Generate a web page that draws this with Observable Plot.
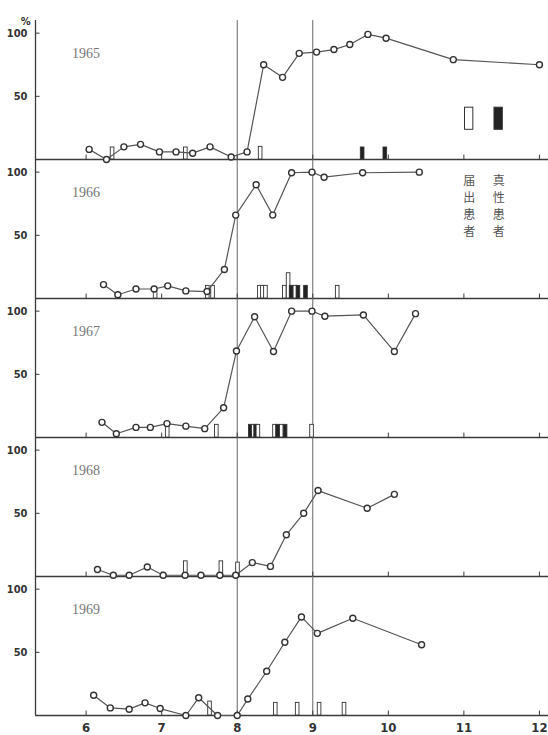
<!DOCTYPE html>
<html><head><meta charset="utf-8">
<script src="https://cdn.jsdelivr.net/npm/d3@7"></script>
<script src="https://cdn.jsdelivr.net/npm/@observablehq/plot@0.6"></script>
<style>body{margin:0;background:#fff}</style>
</head><body><div id="chart"></div>
<script>
const years = [1965, 1966, 1967, 1968, 1969];
const months = [6, 7, 8, 9, 10, 11, 12];
const markerMonths = [8, 9];
const yTicks = [50, 100];

// percentage series (x in months, y in %)
const month1965 = [6.04, 6.27, 6.50, 6.72, 6.97, 7.19, 7.41, 7.64, 7.92, 8.13, 8.35, 8.60, 8.82, 9.05, 9.28, 9.49, 9.73, 9.97, 10.86, 12.0];
const rate1965  = [8, 0, 10, 12, 6, 6, 5, 10, 2, 6, 75, 65, 84, 85, 87, 91, 99, 96, 79, 75];
const month1966 = [6.23, 6.42, 6.66, 6.90, 7.08, 7.32, 7.60, 7.83, 7.98, 8.25, 8.47, 8.72, 8.99, 9.15, 9.66, 10.41];
const rate1966  = [11, 3, 7.5, 7.5, 10, 6, 5.5, 23, 66, 90, 66, 99.5, 100, 96, 99.5, 100];
const month1967 = [6.21, 6.40, 6.66, 6.85, 7.07, 7.32, 7.57, 7.82, 7.99, 8.23, 8.48, 8.72, 8.99, 9.16, 9.67, 10.08, 10.36];
const rate1967  = [12, 3, 8, 8, 11, 9, 7, 23.5, 68.5, 95.5, 68, 100, 100, 96, 97, 68, 98];
const month1968 = [6.15, 6.36, 6.57, 6.81, 7.02, 7.31, 7.52, 7.77, 7.98, 8.20, 8.44, 8.65, 8.88, 9.07, 9.72, 10.08];
const rate1968  = [5.5, 1, 1, 7.5, 1, 1, 1, 1, 1, 11, 8, 33, 50, 68, 54, 65];
const month1969 = [6.10, 6.32, 6.57, 6.78, 6.98, 7.32, 7.49, 7.74, 8.00, 8.14, 8.39, 8.63, 8.85, 9.06, 9.53, 10.44];
const rate1969  = [16, 6, 5, 10, 5.5, 0, 14, 0, 0, 13, 35, 58, 78, 65, 77, 56];

// patient bars (o = 届出患者 open, f = 真性患者 filled)
const barMonth1965 = [6.35, 7.32, 8.31, 9.66, 9.96];
const barSize1965  = [9.5, 9.5, 10, 9.5, 9.5];
const barKind1965  = ["o", "o", "o", "f", "f"];
const barMonth1966 = [6.92, 7.61, 7.68, 8.30, 8.34, 8.38, 8.63, 8.68, 8.72, 8.77, 8.81, 8.91, 9.33];
const barSize1966  = [5, 10, 10, 10, 10, 10, 10, 20, 10, 10, 10, 10, 10];
const barKind1966  = ["o", "o", "o", "o", "o", "o", "o", "o", "f", "o", "f", "f", "o"];
const barMonth1967 = [7.08, 7.73, 8.18, 8.22, 8.25, 8.28, 8.50, 8.54, 8.59, 8.64, 8.99];
const barSize1967  = [10, 10, 10, 10, 10, 10, 10, 10, 10, 10, 10];
const barKind1967  = ["o", "o", "f", "o", "f", "o", "o", "f", "o", "f", "o"];
const barMonth1968 = [7.32, 7.79, 8.01];
const barSize1968  = [12, 12, 11];
const barKind1968  = ["o", "o", "o"];
const barMonth1969 = [7.64, 8.51, 8.80, 9.09, 9.42];
const barSize1969  = [11, 10, 10, 10, 10];
const barKind1969  = ["o", "o", "o", "o", "o"];

const legendKind  = ["o", "f"];
const legendLabel = ["届出患者", "真性患者"];
const legendMonth = [11.07, 11.46];
const legendKeyRange = [23.5, 41];
const legendTextY = 74;

const seriesMonths = {1965: month1965, 1966: month1966, 1967: month1967, 1968: month1968, 1969: month1969};
const seriesRates  = {1965: rate1965, 1966: rate1966, 1967: rate1967, 1968: rate1968, 1969: rate1969};
const barMonths = {1965: barMonth1965, 1966: barMonth1966, 1967: barMonth1967, 1968: barMonth1968, 1969: barMonth1969};
const barSizes  = {1965: barSize1965, 1966: barSize1966, 1967: barSize1967, 1968: barSize1968, 1969: barSize1969};
const barKinds  = {1965: barKind1965, 1966: barKind1966, 1967: barKind1967, 1968: barKind1968, 1969: barKind1969};

const points = years.flatMap(y => seriesMonths[y].map((m, i) => ({year: y, month: m, rate: seriesRates[y][i]})));
const bars = years.flatMap(y => barMonths[y].map((m, i) => ({year: y, month: m, size: barSizes[y][i], kind: barKinds[y][i]})));
const legend = legendKind.map((k, i) => ({kind: k, label: legendLabel[i], month: legendMonth[i]}));

const xDomain = [5.33, 12.12];
const bw = 0.024;
const ink = "#3a3a3a";

const chart = Plot.plot({
  width: 548, height: 735,
  marginLeft: 35, marginRight: 0, marginTop: 18, marginBottom: 19,
  x: {domain: xDomain},
  y: {domain: [0, 110]},
  fy: {domain: years, padding: 0, axis: null},
  style: {background: "white", overflow: "visible"},
  marks: [
    Plot.ruleY([0], {stroke: ink, strokeWidth: 1.3}),
    Plot.ruleX([xDomain[0]], {stroke: ink, strokeWidth: 1.3}),
    Plot.ruleX(markerMonths, {stroke: "#666", strokeWidth: 1}),
    Plot.ruleX(months, {x: d => d, y1: 0, y2: 3.5, stroke: ink}),
    Plot.ruleY(yTicks, {y: d => d, x1: xDomain[0], x2: xDomain[0] + 0.06, stroke: ink}),
    Plot.axisY({ticks: yTicks, tickSize: 0, tickPadding: 8, tickFormat: d => String(d), fontSize: 11, fontWeight: "bold", fontFamily: "DejaVu Sans Condensed", fill: "#333", label: null}),
    Plot.axisX({ticks: months, tickSize: 0, tickPadding: 7, tickFormat: d => String(d), fontSize: 13, fontWeight: "bold", fontFamily: "DejaVu Sans Condensed", fill: "#333", label: null}),
    Plot.rect(bars, {x1: d => d.month - bw, x2: d => d.month + bw, y1: 0, y2: "size", fy: "year",
      fill: d => d.kind === "f" ? "#222" : "white", stroke: "#333", strokeWidth: 0.9}),
    Plot.line(points, {x: "month", y: "rate", fy: "year", stroke: "#555", strokeWidth: 1.2}),
    Plot.dot(points, {x: "month", y: "rate", fy: "year", r: 3, fill: "white", stroke: "#333", strokeWidth: 1.4}),
    Plot.text(years, {x: 6.0, y: 84, fy: d => d, text: d => String(d), fontFamily: "Liberation Serif", fontSize: 14, fill: "#777"}),
    Plot.text(["%"], {x: 5.2, y: 109, fy: () => years[0], text: d => d, fontSize: 11, fontWeight: "bold", fontFamily: "DejaVu Sans Condensed", fill: "#333"}),
    Plot.rect(legend, {x1: d => d.month - 0.055, x2: d => d.month + 0.055, y1: legendKeyRange[0], y2: legendKeyRange[1], fy: () => years[0],
      fill: d => d.kind === "f" ? "#222" : "white", stroke: "#333", strokeWidth: 1}),
    Plot.text(legend, {x: "month", y: legendTextY, fy: () => years[1], text: d => d.label.split("").join("\n"), lineHeight: 1.4,
      fontFamily: "Noto Sans CJK JP", fontSize: 12, fill: "#555"})
  ]
});
document.getElementById("chart").append(chart);
</script>
</body></html>
